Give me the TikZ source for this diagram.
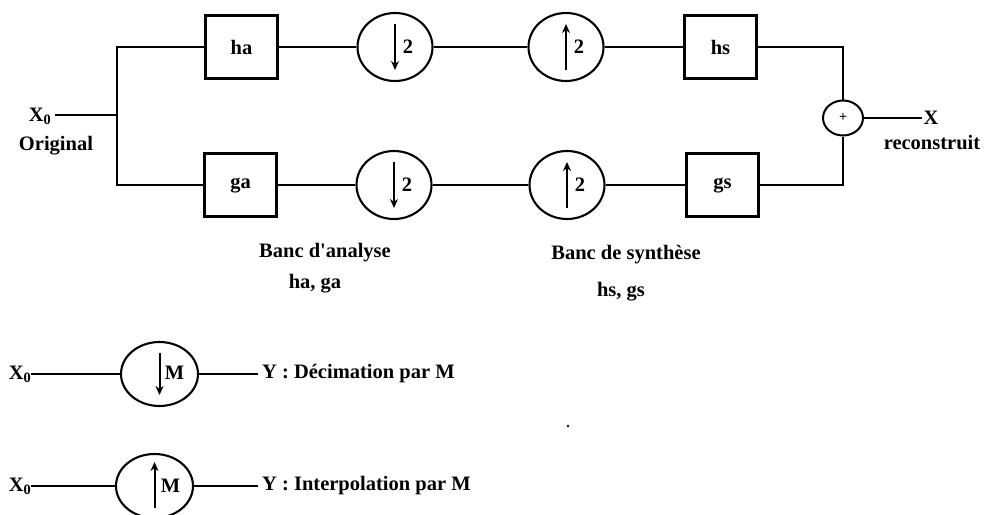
\documentclass[tikz,border=0pt]{standalone}
\usepackage{fontspec}
\setmainfont{Liberation Serif}
\usetikzlibrary{shapes.geometric,arrows.meta}
\begin{document}
\begin{tikzpicture}[x=1pt,y=-1pt,
  every node/.style={font=\fontsize{20.5}{24}\selectfont\bfseries},
  wire/.style={line width=2.1pt},
  blk/.style={draw,line width=2.5pt,minimum width=72pt,minimum height=63pt,inner sep=0pt},
  circ/.style={draw,ellipse,line width=2.1pt,minimum width=75pt,minimum height=68pt,inner sep=0pt},
  circs/.style={draw,ellipse,line width=2.1pt,minimum width=77pt,minimum height=64pt,inner sep=0pt},
  arr/.style={line width=2pt,-{Stealth[length=9pt,width=8pt]}},
  lbl/.style={inner sep=0pt}
]
\clip (0,0) rectangle (984,514);
\fill[white] (0,0) rectangle (984,514);
% top chain
\node[lbl] (x0) at (40,116) {X\textsubscript{0}};
\node[lbl] (orig) at (56,146) {Original};
\coordinate (split) at (117,115);
\node[blk] (ha) at (241.5,47) {ha};
\node[blk] (ga) at (240.5,185) {ga};
\node[circ] (d1) at (395,47) {};
\node[circ] (d2) at (394,185) {};
\node[circ] (u1) at (566,47) {};
\node[circ] (u2) at (567,185) {};
\node[blk] (hs) at (720.5,47) {hs};
\node[blk] (gs) at (722.5,185) {gs};
\node[draw,ellipse,line width=2pt,minimum width=40pt,minimum height=35pt,inner sep=0pt,font=\fontsize{14}{14}\selectfont\bfseries] (plus) at (843,118) {+};
\node[lbl] (xout) at (931,118) {X};
\node[lbl] (rec) at (932,143) {reconstruit};
% arrows and factors in circles
\draw[arr] ([yshift=23pt]d1.center) -- ([yshift=-23pt]d1.center);
\node[lbl] (d1n) at ([xshift=13pt]d1.center) {2};
\draw[arr] ([yshift=23pt]d2.center) -- ([yshift=-23pt]d2.center);
\node[lbl] (d2n) at ([xshift=13pt]d2.center) {2};
\draw[arr] ([yshift=-23pt]u1.center) -- ([yshift=23pt]u1.center);
\node[lbl] (u1n) at ([xshift=13pt]u1.center) {2};
\draw[arr] ([yshift=-23pt]u2.center) -- ([yshift=23pt]u2.center);
\node[lbl] (u2n) at ([xshift=13pt]u2.center) {2};
% wires
\draw[wire] (x0.east |- split) ++(4,0) -- (split);
\draw[wire] (ha.west) -| (split) |- (ga.west);
\draw[wire] (ha) -- (d1);
\draw[wire] (ga) -- (d2);
\draw[wire] (d1) -- (u1);
\draw[wire] (d2) -- (u2);
\draw[wire] (u1) -- (hs);
\draw[wire] (u2) -- (gs);
\draw[wire] (hs.east) -| (plus.north);
\draw[wire] (gs.east) -| (plus.south);
\draw[wire] (plus.east) -- ([xshift=-1pt]plus.east -| xout.west);
% bank labels
\node[lbl] (ban) at (325,253) {Banc d\textquotesingle analyse};
\node[lbl] (banh) at (315,284) {ha, ga};
\node[lbl] (bsy) at (626,255) {Banc de synthèse};
\node[lbl] (bsyh) at (621,292) {hs, gs};
% decimation legend
\node[lbl] (x0a) at (20,374) {X\textsubscript{0}};
\node[circs] (dec) at (159.5,374) {};
\draw[arr] ([yshift=21pt]dec.center) -- ([yshift=-21pt]dec.center);
\node[lbl] (decm) at ([xshift=15pt,yshift=1pt]dec.center) {M};
\node[anchor=west,inner sep=4pt] (ydec) at (258,374) {Y : Décimation par M};
\draw[wire] (x0a.east |- dec) -- (dec.west);
\draw[wire] (dec.east) -- (dec.east -| ydec.west);
% interpolation legend
\node[lbl] (x0b) at (20,486) {X\textsubscript{0}};
\node[circs] (int) at (154.5,486) {};
\draw[arr] ([yshift=-22pt]int.center) -- ([yshift=24pt]int.center);
\node[lbl] (intm) at ([xshift=16pt]int.center) {M};
\node[anchor=west,inner sep=4pt] (yint) at (258,486) {Y : Interpolation par M};
\draw[wire] (x0b.east |- int) -- (int.west);
\draw[wire] (int.east) -- (int.east -| yint.west);
% speck
\fill (568,426) circle (1.3pt);
\end{tikzpicture}
\end{document}
